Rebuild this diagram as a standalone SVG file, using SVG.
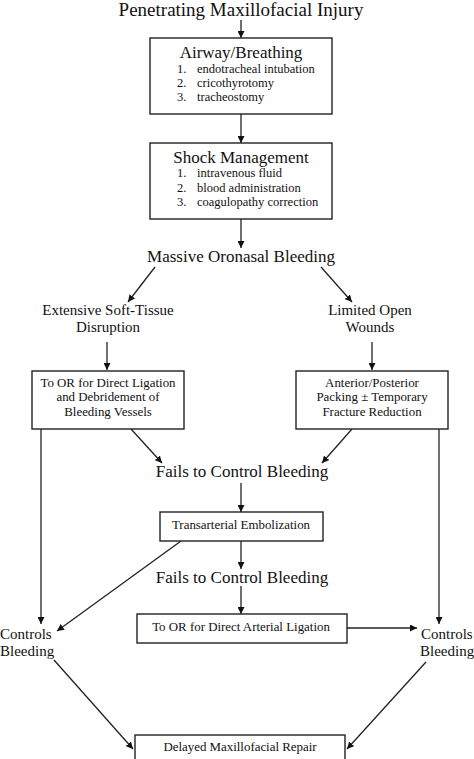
<svg xmlns="http://www.w3.org/2000/svg" width="474" height="759" viewBox="0 0 474 759">
<style>
text{font-family:"Liberation Serif","Times New Roman",serif;fill:#111}
.big{font-size:19px}
.mid{font-size:17px}
.lbl{font-size:15px}
.hd{font-size:17px}
.sm{font-size:12.5px}
.bx{font-size:12.9px}
.c{text-anchor:middle}
rect{fill:#fff;stroke:#222;stroke-width:1.4}
.ln{stroke:#222;stroke-width:1.3;fill:none}
</style>
<defs>
<marker id="ah" viewBox="0 0 10 10" refX="10" refY="5" markerWidth="7" markerHeight="7" markerUnits="userSpaceOnUse" orient="auto">
<path d="M0,0 L10,5 L0,10 z" fill="#111"/>
</marker>
</defs>
<rect x="0" y="0" width="474" height="759" style="fill:#fff;stroke:none"/>
<g id="connectors">
<line class="ln" x1="241" y1="20" x2="241" y2="38" marker-end="url(#ah)"/>
<line class="ln" x1="241" y1="114" x2="241" y2="143" marker-end="url(#ah)"/>
<line class="ln" x1="241" y1="219" x2="241" y2="248" marker-end="url(#ah)"/>
<line class="ln" x1="155" y1="267" x2="128" y2="302" marker-end="url(#ah)"/>
<line class="ln" x1="321" y1="267" x2="352" y2="302" marker-end="url(#ah)"/>
<line class="ln" x1="107" y1="342" x2="107" y2="370" marker-end="url(#ah)"/>
<line class="ln" x1="372" y1="342" x2="372" y2="370" marker-end="url(#ah)"/>
<line class="ln" x1="41" y1="429" x2="41" y2="624" marker-end="url(#ah)"/>
<line class="ln" x1="439" y1="429" x2="439" y2="624" marker-end="url(#ah)"/>
<line class="ln" x1="131" y1="429" x2="162" y2="463" marker-end="url(#ah)"/>
<line class="ln" x1="352" y1="429" x2="322" y2="463" marker-end="url(#ah)"/>
<line class="ln" x1="241" y1="483" x2="241" y2="512" marker-end="url(#ah)"/>
<line class="ln" x1="241" y1="541" x2="241" y2="569" marker-end="url(#ah)"/>
<line class="ln" x1="241" y1="586" x2="241" y2="614" marker-end="url(#ah)"/>
<line class="ln" x1="347" y1="628" x2="417" y2="628" marker-end="url(#ah)"/>
<line class="ln" x1="181" y1="541" x2="57" y2="631" marker-end="url(#ah)"/>
<line class="ln" x1="54" y1="660" x2="133" y2="749" marker-end="url(#ah)"/>
<line class="ln" x1="426" y1="662" x2="347" y2="749" marker-end="url(#ah)"/>
</g>
<g id="title"><text class="big c" x="241" y="16">Penetrating Maxillofacial Injury</text></g>
<g id="airway">
<rect x="150" y="38" width="182" height="76"/>
<text class="mid c" x="241" y="58">Airway/Breathing</text>
<text class="sm" x="177" y="73">1.</text><text class="sm" x="197" y="73">endotracheal intubation</text>
<text class="sm" x="177" y="87">2.</text><text class="sm" x="197" y="87">cricothyrotomy</text>
<text class="sm" x="177" y="101">3.</text><text class="sm" x="197" y="101">tracheostomy</text>
</g>
<g id="shock">
<rect x="150" y="143" width="182" height="76"/>
<text class="mid c" x="241" y="163">Shock Management</text>
<text class="sm" x="177" y="177">1.</text><text class="sm" x="197" y="177">intravenous fluid</text>
<text class="sm" x="177" y="192">2.</text><text class="sm" x="197" y="192">blood administration</text>
<text class="sm" x="177" y="206">3.</text><text class="sm" x="197" y="206">coagulopathy correction</text>
</g>
<g id="massive"><text class="hd c" x="241" y="262">Massive Oronasal Bleeding</text></g>
<g id="extensive"><text class="lbl c" x="108" y="315">Extensive Soft-Tissue</text><text class="lbl c" x="108" y="332">Disruption</text></g>
<g id="limited"><text class="lbl c" x="370" y="315">Limited Open</text><text class="lbl c" x="370" y="332">Wounds</text></g>
<g id="or-ligation">
<rect x="32" y="371" width="152" height="58"/>
<text class="bx c" x="108" y="387">To OR for Direct Ligation</text>
<text class="bx c" x="108" y="401">and Debridement of</text>
<text class="bx c" x="108" y="416">Bleeding Vessels</text>
</g>
<g id="packing">
<rect x="296" y="371" width="152" height="58"/>
<text class="bx c" x="372" y="387">Anterior/Posterior</text>
<text class="bx c" x="372" y="401">Packing ± Temporary</text>
<text class="bx c" x="372" y="416">Fracture Reduction</text>
</g>
<g id="fails1"><text class="hd c" x="242" y="477">Fails to Control Bleeding</text></g>
<g id="embolization">
<rect x="160" y="512" width="163" height="29"/>
<text class="bx c" x="241" y="529">Transarterial Embolization</text>
</g>
<g id="fails2"><text class="hd c" x="242" y="583">Fails to Control Bleeding</text></g>
<g id="or-arterial">
<rect x="137" y="614" width="210" height="29"/>
<text class="bx c" x="241" y="631">To OR for Direct Arterial Ligation</text>
</g>
<g id="controls-left"><text class="lbl" x="0" y="639">Controls</text><text class="lbl" x="0" y="656">Bleeding</text></g>
<g id="controls-right"><text class="lbl" x="421" y="639">Controls</text><text class="lbl" x="420" y="656">Bleeding</text></g>
<g id="delayed">
<rect x="135" y="735" width="210" height="30"/>
<text class="bx c" x="240" y="751">Delayed Maxillofacial Repair</text>
</g>
</svg>
